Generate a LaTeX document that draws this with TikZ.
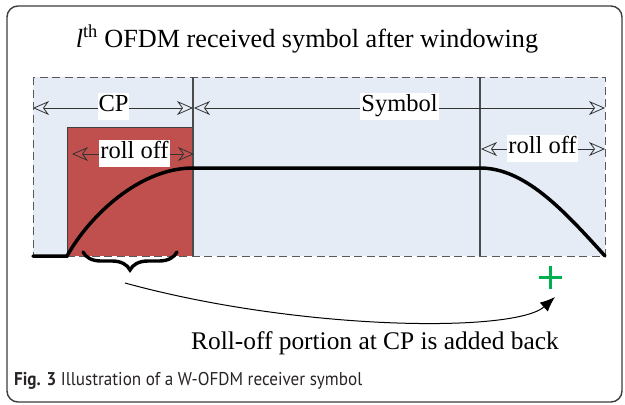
\documentclass[tikz,border=0pt]{standalone}
\usepackage{fontspec}
\usepackage{graphicx}
\setmainfont{Liberation Serif}
\newfontfamily\capfont{PT Sans}
\usetikzlibrary{arrows.meta,decorations.pathreplacing}
\definecolor{bgblue}{RGB}{229,236,246}
\definecolor{cpred}{RGB}{192,80,77}
\definecolor{plusgreen}{RGB}{0,176,80}
\definecolor{framegray}{RGB}{60,60,60}
\definecolor{capgray}{RGB}{40,36,38}
\tikzset{
  region/.style={draw=black!65, line width=1pt, dash pattern=on 8pt off 4.5pt},
  divider/.style={draw=black!70, line width=1.1pt},
  dimline/.style={draw=black!80, line width=0.8pt, {Stealth[open,length=16pt,width=14pt,inset=5pt]}-{Stealth[open,length=16pt,width=14pt,inset=5pt]}},
  dimlabel/.style={fill=white, inner xsep=1pt, inner ysep=2pt, font=\fontsize{24.5}{28}\selectfont, text height=17pt, text depth=6pt},
  signal/.style={line width=3.5pt, black, line cap=round},
  mainlabel/.style={inner sep=0pt},
}
\begin{document}
\begin{tikzpicture}[x=1pt,y=-1pt]
\useasboundingbox (0,0) rectangle (625,405);
% outer frame
\draw[framegray, line width=1.4pt, rounded corners=11pt] (7,6) rectangle (622,402);
% title
\node[mainlabel, anchor=base, font=\fontsize{26.2}{30}\selectfont] (title) at (307,47) {\textit{l}\textsuperscript{th} OFDM received symbol after windowing};
% region
\coordinate (rtl) at (33,77);
\coordinate (rbr) at (605,256);
\fill[bgblue] (rtl) rectangle (rbr);
\fill[cpred] (67,127) rectangle (193,256);
\draw[black!75, line width=0.8pt] (67,256) -- (67,127) -- (193,127);
\draw[region] (rtl) rectangle (rbr);
\coordinate (d1t) at (193,77); \coordinate (d1b) at (193,256);
\coordinate (d2t) at (480,77); \coordinate (d2b) at (480,256);
\draw[divider] (d1t) -- (d1b);
\draw[divider] (d2t) -- (d2b);
% dimension arrows
\coordinate (cpl) at (33,108); \coordinate (cpr) at (193,108);
\coordinate (syl) at (194,108); \coordinate (syr) at (605,108);
\coordinate (r1l) at (72,154); \coordinate (r1r) at (194,154);
\coordinate (r2l) at (481,149); \coordinate (r2r) at (605,149);
\draw[dimline] (cpl) -- (cpr);
\draw[dimline] (syl) -- (syr);
\draw[dimline] (r1l) -- (r1r);
\draw[dimline] (r2l) -- (r2r);
\node[dimlabel] (cp) at (113.5,106) {CP};
\node[dimlabel] (sym) at (399.5,106) {Symbol};
\node[dimlabel] (ro1) at (134.5,153) {roll off};
\node[dimlabel] (ro2) at (542.5,148) {roll off};
% signal
\draw[signal] (33,256) -- (67,256) .. controls (90,215) and (140,168) .. (193,168) -- (480,168)
  plot[domain=0:90, samples=40] ({480+125*\x/90},{256-88*cos(\x)});
% brace
\coordinate (bra) at (177,252);
\coordinate (brb) at (83,252);
\draw[line width=3.4pt, line cap=round, decorate, decoration={brace, amplitude=18pt}] (bra) -- (brb);
% plus
\coordinate (pc) at (550,277);
\draw[plusgreen, line width=3pt] ([xshift=-11.5pt]pc) -- ([xshift=11.5pt]pc);
\draw[plusgreen, line width=3pt] ([yshift=-11.5pt]pc) -- ([yshift=11.5pt]pc);
% curved arrow
\coordinate (as) at (125,283);
\coordinate (ae) at (555,297);
\draw[black, line width=1pt, -{Latex[length=15pt,width=12pt]}] (as) .. controls (300,331) and (515,333) .. (ae);
\node[mainlabel, anchor=base, font=\fontsize{25.4}{29}\selectfont] (note) at (375,349) {Roll-off portion at CP is added back};
% caption
\node[anchor=base west, inner sep=0pt, text=capgray, font=\capfont\fontsize{18.5}{22}\selectfont] (cap) at (14,385) {\scalebox{0.925}[1]{\textbf{Fig. 3} Illustration of a W-OFDM receiver symbol}};
\end{tikzpicture}
\end{document}
